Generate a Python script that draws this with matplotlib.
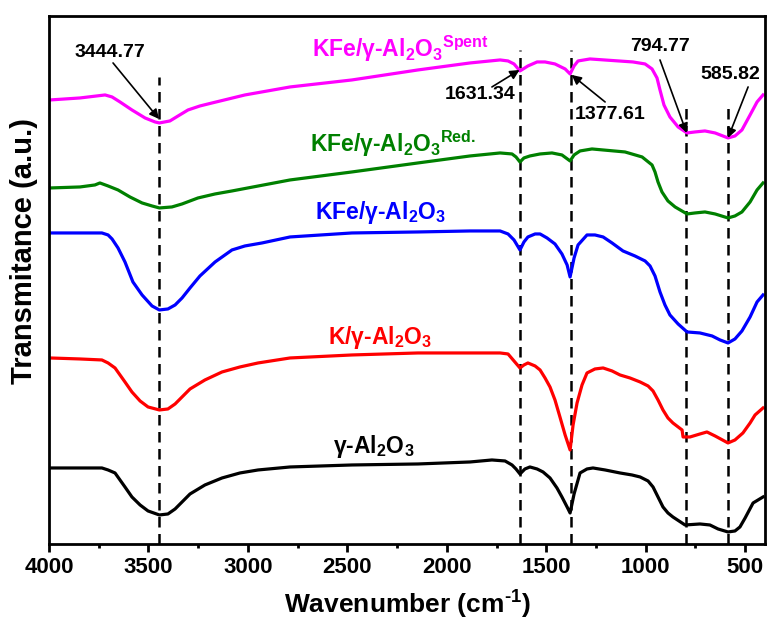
import matplotlib
matplotlib.use("Agg")
import matplotlib.pyplot as plt
from matplotlib.ticker import MultipleLocator

plt.rcParams['font.family'] = ['Liberation Sans', 'DejaVu Sans']
plt.rcParams['font.weight'] = 'bold'
plt.rcParams['mathtext.fontset'] = 'custom'
plt.rcParams['mathtext.rm'] = 'Liberation Sans:bold'
plt.rcParams['mathtext.bf'] = 'Liberation Sans:bold'
plt.rcParams['mathtext.default'] = 'bf'

# spectra (wavenumber, offset transmittance in a.u.)
spent_wn = [3995, 3844, 3718, 3683, 3643, 3583, 3517, 3467, 3445, 3392,
            3351, 3301, 3241, 3180, 3015, 2788, 2477, 2145, 1883, 1732,
            1692, 1662, 1632, 1592, 1546, 1506, 1456, 1405, 1380, 1360,
            1340, 1280, 1064, 1003, 968, 943, 928, 908, 878, 837,
            792, 752, 702, 651, 586, 551, 516, 475, 440, 410]
spent_t = [443, 445, 448, 446, 441, 433, 425, 421, 420, 422,
           427, 433, 437, 440, 448, 456, 463, 473, 480, 483,
           482, 479, 472, 477, 481, 481, 479, 474, 469, 477,
           482, 484, 481, 479, 474, 465, 453, 438, 426, 416,
           410, 411, 412, 410, 405, 407, 413, 428, 441, 448]

red_wn = [3995, 3844, 3769, 3744, 3703, 3653, 3593, 3532, 3482, 3445,
          3382, 3331, 3251, 3165, 3080, 2788, 2477, 2145, 1883, 1732,
          1672, 1652, 1632, 1612, 1582, 1531, 1471, 1421, 1380, 1360,
          1330, 1270, 1104, 1018, 968, 953, 938, 918, 888, 852,
          792, 752, 702, 651, 586, 551, 516, 475, 440, 410]
red_t = [355, 356, 358, 360, 357, 353, 346, 340, 337, 335,
         336, 339, 345, 349, 352, 363, 371, 380, 387, 390,
         389, 386, 381, 385, 387, 389, 390, 388, 382, 388,
         392, 394, 391, 386, 378, 371, 361, 351, 342, 336,
         329, 330, 331, 329, 325, 327, 331, 341, 353, 360]

kfe_wn = [3995, 3844, 3734, 3703, 3683, 3653, 3618, 3578, 3532, 3482,
          3445, 3402, 3366, 3331, 3291, 3241, 3165, 3080, 3015, 2929,
          2788, 2477, 2145, 1883, 1732, 1692, 1662, 1632, 1612, 1592,
          1556, 1531, 1496, 1456, 1421, 1395, 1380, 1360, 1340, 1295,
          1255, 1214, 1169, 1114, 1054, 1003, 978, 953, 928, 903,
          878, 837, 792, 727, 666, 626, 586, 551, 516, 475,
          440, 410]
kfe_t = [310, 310, 310, 308, 304, 295, 281, 261, 248, 237,
         233, 234, 238, 245, 255, 267, 281, 293, 297, 300,
         306, 310, 311, 312, 312, 309, 303, 293, 301, 306,
         309, 309, 305, 299, 289, 278, 266, 285, 298, 308,
         308, 306, 300, 292, 287, 282, 277, 267, 251, 238,
         228, 219, 211, 210, 207, 203, 200, 204, 212, 226,
         241, 248]

k_wn = [3995, 3844, 3734, 3703, 3668, 3618, 3583, 3542, 3502, 3445,
        3402, 3366, 3331, 3291, 3216, 3130, 3040, 2949, 2788, 2477,
        2145, 1732, 1692, 1662, 1632, 1612, 1592, 1556, 1531, 1506,
        1481, 1456, 1431, 1405, 1380, 1365, 1345, 1320, 1295, 1255,
        1214, 1169, 1129, 1079, 1028, 988, 963, 938, 913, 888,
        863, 817, 812, 777, 727, 692, 651, 586, 551, 511,
        475, 450, 410]
k_t = [185, 184, 183, 180, 175, 161, 151, 142, 136, 133,
       134, 139, 146, 154, 163, 171, 176, 180, 185, 188,
       190, 190, 189, 182, 175, 178, 180, 177, 173, 165,
       156, 143, 126, 108, 93, 118, 140, 158, 170, 174,
       175, 172, 168, 165, 161, 157, 152, 143, 133, 125,
       120, 113, 106, 106, 109, 111, 107, 100, 103, 110,
       120, 128, 135]

al_wn = [3995, 3844, 3734, 3703, 3668, 3618, 3583, 3542, 3502, 3445,
         3402, 3366, 3331, 3291, 3216, 3130, 3040, 2949, 2788, 2477,
         2145, 1883, 1773, 1707, 1672, 1652, 1632, 1607, 1582, 1546,
         1516, 1481, 1446, 1421, 1395, 1380, 1360, 1330, 1295, 1265,
         1204, 1129, 1069, 1028, 988, 963, 938, 913, 888, 863,
         802, 727, 677, 636, 586, 551, 526, 500, 460, 410]
al_t = [75, 75, 75, 73, 70, 56, 46, 38, 32, 28,
        29, 34, 41, 49, 58, 65, 70, 73, 76, 78,
        79, 81, 83, 82, 78, 74, 69, 74, 76, 74,
        71, 65, 55, 46, 36, 30, 49, 70, 74, 75,
        73, 70, 68, 66, 62, 56, 46, 36, 30, 26,
        18, 19, 18, 14, 11, 12, 16, 25, 40, 46]

peaks = [3444.77, 1631.34, 1377.61, 794.77, 585.82]
peak_tops = [466, 493, 493, 440, 440]

fig = plt.figure(figsize=(7.68, 6.28), dpi=100)
ax = fig.add_axes([0.0638, 0.1338, 0.9323, 0.8408])

ax.vlines(peaks, -1, peak_tops, colors='black', linewidth=1.8,
          linestyles=(0, (4.2, 2.6)), zorder=1)

ax.plot(spent_wn, spent_t, color='#ff00ff', lw=2.3)
ax.plot(red_wn, red_t, color='#008000', lw=2.3)
ax.plot(kfe_wn, kfe_t, color='#0000ff', lw=2.3)
ax.plot(k_wn, k_t, color='#ff0000', lw=2.3)
ax.plot(al_wn, al_t, color='black', lw=2.3)

# curve labels
lab_fs = 16.5
ax.text(2678, 486, 'KFe/γ-Al$_2$O$_3$$^{Spent}$', color='#ff00ff', fontsize=lab_fs, fontweight='bold')
ax.text(2688, 391, 'KFe/γ-Al$_2$O$_3$$^{Red.}$', color='#008000', fontsize=lab_fs, fontweight='bold')
ax.text(2663, 324, 'KFe/γ-Al$_2$O$_3$', color='#0000ff', fontsize=lab_fs, fontweight='bold')
ax.text(2597, 199, 'K/γ-Al$_2$O$_3$', color='#ff0000', fontsize=lab_fs, fontweight='bold')
ax.text(2572, 90, 'γ-Al$_2$O$_3$', color='black', fontsize=lab_fs, fontweight='bold')

# peak annotations
arrow = dict(arrowstyle='-|>', color='black', lw=1.2, mutation_scale=14, shrinkA=0, shrinkB=0)
ann = [
    ('3444.77', (3693, 490), (3678, 480), (3447, 424)),
    ('1631.34', (1833, 448), (1773, 456), (1634, 473)),
    ('1377.61', (1179, 428), (1204, 441), (1372, 468)),
    ('794.77', (928, 496), (928, 483), (794, 410)),
    ('585.82', (576, 468), (485, 456), (586, 405)),
]
for txt, tpos, tail, head in ann:
    ax.text(tpos[0], tpos[1], txt, fontsize=14, fontweight='bold', ha='center', va='center')
    ax.annotate('', xy=head, xytext=tail, arrowprops=arrow)

ax.set_xlim(4000, 400)
ax.set_ylim(-1, 527)
ax.xaxis.set_major_locator(MultipleLocator(500))
ax.xaxis.set_minor_locator(MultipleLocator(250))
ax.set_yticks([])
ax.tick_params(axis='x', which='major', direction='out', length=6, width=2, labelsize=16)
ax.tick_params(axis='x', which='minor', direction='out', length=3, width=2)
for lab in ax.get_xticklabels():
    lab.set_fontweight('bold')
for sp in ax.spines.values():
    sp.set_linewidth(2)

ax.set_xlabel('Wavenumber (cm$^{\u20101}$)', fontsize=19, fontweight='bold', labelpad=8)
ax.set_ylabel('Transmitance (a.u.)', fontsize=21, fontweight='bold')
ax.yaxis.set_label_coords(-0.016, 0.555)

fig.savefig('out.png', dpi=100)
